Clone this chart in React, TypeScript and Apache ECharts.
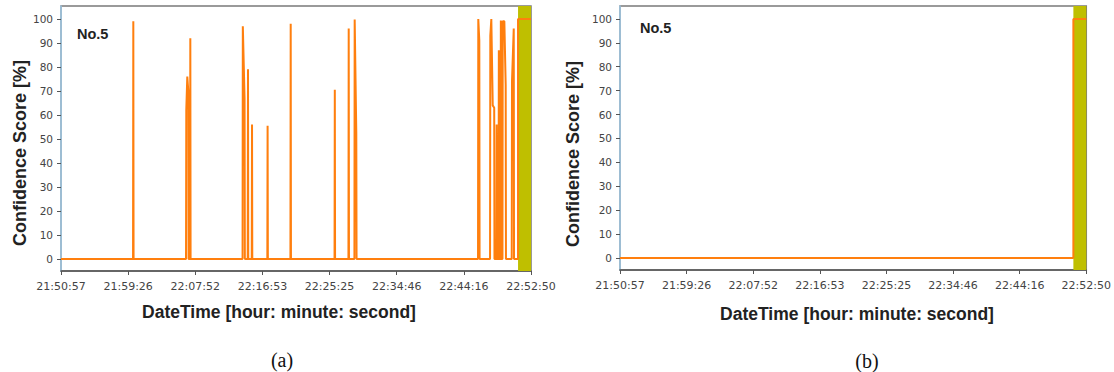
import React, { useEffect, useRef } from "react";
import * as echarts from "echarts";

// Tick labels on the (index-based) time axis: tick i sits at x = i
const xTickLabels = ["21:50:57", "21:59:26", "22:07:52", "22:16:53", "22:25:25", "22:34:46", "22:44:16", "22:52:50"];
const yTickValues = [0, 10, 20, 30, 40, 50, 60, 70, 80, 90, 100];

// (a) Confidence score series: positions in tick-index units, score in %
const scoreATime = [
  0,
  1.073, 1.077, 1.081,
  1.862, 1.866, 1.881, 1.896, 1.900,
  1.922, 1.926, 1.930,
  2.704, 2.708, 2.734, 2.738,
  2.781, 2.785, 2.789,
  2.841, 2.845, 2.849,
  3.073, 3.077, 3.081,
  3.417, 3.421, 3.425,
  4.074, 4.078, 4.082,
  4.281, 4.285, 4.289,
  4.370, 4.374, 4.398, 4.402,
  6.211, 6.215, 6.230, 6.234,
  6.390, 6.394, 6.409, 6.430, 6.452, 6.456,
  6.485, 6.489, 6.493,
  6.517, 6.521, 6.525,
  6.547, 6.551, 6.555,
  6.575, 6.579, 6.603, 6.623, 6.627,
  6.713, 6.717, 6.743, 6.747,
  6.807, 6.807, 7,
];
const scoreAValue = [
  0,
  0, 99, 0,
  0, 62, 76, 70, 0,
  0, 92, 0,
  0, 97, 67, 0,
  0, 79, 0,
  0, 56, 0,
  0, 55.5, 0,
  0, 98, 0,
  0, 70.5, 0,
  0, 96, 0,
  0, 99.8, 52.4, 0,
  0, 100, 91, 0,
  0, 93, 100, 64, 63, 0,
  0, 56, 0,
  0, 87, 0,
  0, 99.4, 0,
  0, 99, 99, 72.6, 0,
  0, 74, 96, 0,
  0, 100, 100,
];

// (b) Confidence score series
const scoreBTime = [0, 6.806, 6.806, 7];
const scoreBValue = [0, 0, 100, 100];

// Highlighted (detected) interval
const bandA = [6.807, 7];
const bandB = [6.806, 7];

const panelCaptions = ["(a)", "(b)"];
const panelTag = "No.5";
const yTitle = "Confidence Score [%]";
const xTitle = "DateTime [hour: minute: second]";

const ORANGE = "#ff7f0e";
const OLIVE = "#bfbf00";

export default function App() {
  const ref = useRef<HTMLDivElement>(null);
  useEffect(() => {
    if (!ref.current) return;
    const chart = echarts.init(ref.current, undefined, { renderer: "svg" });

    const grids = [
      { left: 61, top: 6, width: 470, height: 265 },
      { left: 620, top: 6, width: 469, height: 264 },
    ];

    const xAxis = grids.map((_, i) => ({
      type: "value",
      gridIndex: i,
      min: 0,
      max: 7,
      interval: 1,
      axisLine: { show: true, onZero: false, lineStyle: { color: "#555", width: 1.5 } },
      axisTick: { show: true, length: 4, lineStyle: { color: "#555", width: 1 } },
      axisLabel: {
        formatter: (v: number) => xTickLabels[Math.round(v)] ?? "",
        color: "#444",
        fontSize: 11,
        fontFamily: "DejaVu Sans",
        margin: 10,
      },
      splitLine: { show: false },
    }));

    const yAxis = grids.map((_, i) => ({
      type: "value",
      gridIndex: i,
      min: -5,
      max: 105.4,
      axisLine: { show: true, onZero: false, lineStyle: { color: "#9ec9e6", width: 1.5 } },
      axisTick: { show: true, length: 4, customValues: yTickValues, lineStyle: { color: "#555" } },
      axisLabel: {
        customValues: yTickValues,
        color: "#444",
        fontSize: 10.5,
        fontFamily: "DejaVu Sans",
        margin: 8,
      },
      splitLine: { show: false },
    }));

    const mk = (t: number[], v: number[]) => t.map((x, k) => [x, v[k]]);

    const series = [
      {
        type: "line",
        xAxisIndex: 0,
        yAxisIndex: 0,
        data: mk(scoreATime, scoreAValue),
        showSymbol: false,
        lineStyle: { color: ORANGE, width: 2, join: "bevel" },
        markArea: {
          silent: true,
          itemStyle: { color: OLIVE },
          data: [[{ xAxis: bandA[0] }, { xAxis: bandA[1] }]],
        },
      },
      {
        type: "line",
        xAxisIndex: 1,
        yAxisIndex: 1,
        data: mk(scoreBTime, scoreBValue),
        showSymbol: false,
        lineStyle: { color: ORANGE, width: 2, join: "bevel" },
        markArea: {
          silent: true,
          itemStyle: { color: OLIVE },
          data: [[{ xAxis: bandB[0] }, { xAxis: bandB[1] }]],
        },
      },
    ];

    const titleFont = { fontFamily: "Liberation Sans", fontWeight: "bold", fontSize: 18, fill: "#222" };

    const graphic = [
      { type: "text", x: 77, y: 33.5, style: { text: panelTag, fontFamily: "Liberation Sans", fontWeight: "bold", fontSize: 14.5, fill: "#222", textAlign: "left", textVerticalAlign: "middle" } },
      { type: "text", x: 640, y: 28, style: { text: panelTag, fontFamily: "Liberation Sans", fontWeight: "bold", fontSize: 14.5, fill: "#222", textAlign: "left", textVerticalAlign: "middle" } },
      { type: "text", x: 20, y: 153, rotation: Math.PI / 2, style: { text: yTitle, ...titleFont, textAlign: "center", textVerticalAlign: "middle" } },
      { type: "text", x: 573, y: 154, rotation: Math.PI / 2, style: { text: yTitle, ...titleFont, textAlign: "center", textVerticalAlign: "middle" } },
      { type: "text", x: 279, y: 312, style: { text: xTitle, ...titleFont, fontSize: 17.5, textAlign: "center", textVerticalAlign: "middle" } },
      { type: "text", x: 857, y: 313.5, style: { text: xTitle, ...titleFont, fontSize: 17.5, textAlign: "center", textVerticalAlign: "middle" } },
      { type: "text", x: 282, y: 360, style: { text: panelCaptions[0], fontFamily: "Liberation Serif", fontSize: 20, fill: "#111", textAlign: "center", textVerticalAlign: "middle" } },
      { type: "text", x: 867, y: 361, style: { text: panelCaptions[1], fontFamily: "Liberation Serif", fontSize: 20, fill: "#111", textAlign: "center", textVerticalAlign: "middle" } },
    ];

    chart.setOption({
      animation: false,
      backgroundColor: "#fff",
      grid: grids.map((g) => ({ ...g, show: true, borderColor: "#7a7a7a", borderWidth: 1.5, backgroundColor: "#fff" })),
      xAxis,
      yAxis,
      series,
      graphic,
    } as any);

    return () => chart.dispose();
  }, []);

  return (
    <div
      ref={ref}
      style={{ position: "fixed", left: 0, top: 0, width: 1114, height: 372, background: "#fff" }}
    />
  );
}
